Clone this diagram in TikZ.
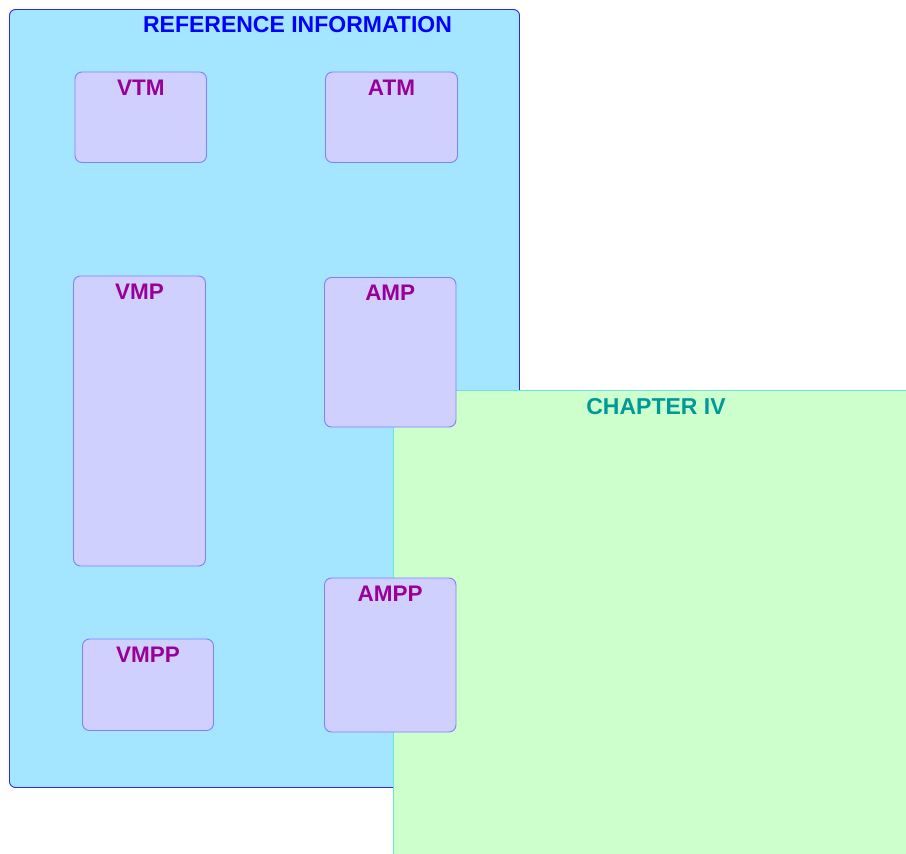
\documentclass[tikz,border=0pt]{standalone}
\usepackage{fontspec}
\setmainfont{Liberation Sans}
\begin{document}
\begin{tikzpicture}[x=1pt,y=-1pt,
  outerbox/.style={draw=refborder,fill=reffill,rounded corners=6pt,line width=0.9pt},
  innerbox/.style={draw=boxborder,fill=boxfill,rounded corners=7pt,line width=0.9pt},
  chapbox/.style={draw=chapborder,fill=chapfill,line width=0.9pt},
  boxlabel/.style={anchor=base,inner sep=0pt,text=labelcol,font=\fontsize{22.5}{27}\selectfont\bfseries},
  titlelabel/.style={anchor=base,inner sep=0pt,font=\fontsize{23}{28}\selectfont\bfseries}]
\definecolor{refborder}{RGB}{40,40,240}
\definecolor{reffill}{RGB}{164,230,255}
\definecolor{boxborder}{RGB}{128,128,255}
\definecolor{boxfill}{RGB}{208,208,255}
\definecolor{chapborder}{RGB}{110,225,220}
\definecolor{chapfill}{RGB}{204,255,204}
\definecolor{labelcol}{RGB}{153,0,153}
\definecolor{titlecol}{RGB}{0,0,255}
\definecolor{chapcol}{RGB}{0,153,153}
\useasboundingbox (0,0) rectangle (906,854);
\fill[white] (0,0) rectangle (906,854);
% outer reference box
\draw[outerbox] (9.5,9.5) rectangle (519.5,787.5);
\node[titlelabel,text=titlecol] (reftitle) at (297.5,32.5) {REFERENCE INFORMATION};
% inner boxes
\draw[innerbox] (75,72) rectangle (206.5,162.5);
\node[boxlabel] (vtm) at (140.75,95) {VTM};
\draw[innerbox] (325.5,72) rectangle (457.5,162.5);
\node[boxlabel] (atm) at (391.5,95) {ATM};
\draw[innerbox] (73.5,276) rectangle (205.5,566);
\node[boxlabel] (vmp) at (139.5,299) {VMP};
\draw[innerbox] (82.5,639) rectangle (213.5,730.5);
\node[boxlabel] (vmpp) at (148,662) {VMPP};
% chapter box
\draw[chapbox] (393.5,390.5) rectangle (912,860);
\node[titlelabel,text=chapcol] (chaptitle) at (656,414.5) {CHAPTER IV};
% boxes drawn over chapter box
\draw[innerbox] (324.5,277.5) rectangle (456,427);
\node[boxlabel] (amp) at (390.25,300) {AMP};
\draw[innerbox] (324.5,578) rectangle (456,732);
\node[boxlabel] (ampp) at (390.25,601) {AMPP};
\end{tikzpicture}
\end{document}
